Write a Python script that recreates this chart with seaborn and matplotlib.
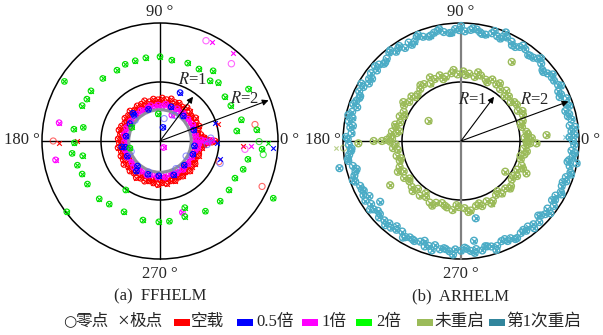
import numpy as np
import matplotlib
matplotlib.use("Agg")
import matplotlib.pyplot as plt
from matplotlib.patches import Circle, Rectangle
import seaborn as sns

# ---------------------------------------------------------------- data
# (a) FFHELM -- rings given as angle (deg) / modulus, single points as re / im

# no-load ring (空载)
red_ang_outer = [3, 9, 15, 21, 27, 33, 39, 45, 51, 57,
                 63, 69, 75, 81, 87, 93, 99, 105, 111, 117,
                 123, 129, 135, 141, 147, 153, 159, 165, 171, 177,
                 183, 189, 195, 201, 207, 213, 219, 225, 231, 237,
                 243, 249, 255, 261, 267, 273, 279, 285, 291, 297,
                 303, 309, 315, 321, 327, 333, 339, 345, 351, 357]
red_mod_outer = [0.74, 0.70, 0.67, 0.71, 0.69, 0.72, 0.68, 0.71, 0.73, 0.69,
                 0.72, 0.70, 0.74, 0.71, 0.73, 0.70, 0.72, 0.69, 0.73, 0.70,
                 0.71, 0.68, 0.72, 0.69, 0.71, 0.67, 0.70, 0.72, 0.68, 0.71,
                 0.69, 0.72, 0.68, 0.71, 0.70, 0.73, 0.69, 0.72, 0.70, 0.74,
                 0.71, 0.73, 0.70, 0.72, 0.74, 0.71, 0.73, 0.70, 0.72, 0.69,
                 0.71, 0.68, 0.72, 0.69, 0.71, 0.67, 0.70, 0.68, 0.72, 0.76]
red_ang_inner = [1, 6, 12, 19, 24, 30, 37, 42, 48, 55,
                 60, 66, 73, 78, 84, 91, 96, 102, 109, 114,
                 120, 127, 132, 138, 145, 150, 156, 163, 168, 174,
                 181, 186, 192, 199, 204, 210, 217, 222, 228, 235,
                 240, 246, 253, 258, 264, 271, 276, 282, 289, 294,
                 300, 307, 312, 318, 325, 330, 336, 343, 348, 354]
red_mod_inner = [0.64, 0.62, 0.65, 0.61, 0.64, 0.62, 0.66, 0.63, 0.61, 0.65,
                 0.63, 0.66, 0.62, 0.65, 0.64, 0.66, 0.63, 0.65, 0.62, 0.64,
                 0.62, 0.65, 0.61, 0.64, 0.62, 0.65, 0.61, 0.63, 0.66, 0.62,
                 0.64, 0.61, 0.65, 0.62, 0.64, 0.61, 0.66, 0.63, 0.65, 0.62,
                 0.66, 0.63, 0.65, 0.67, 0.64, 0.66, 0.63, 0.65, 0.62, 0.66,
                 0.63, 0.65, 0.61, 0.64, 0.62, 0.65, 0.63, 0.61, 0.64, 0.66]
red_spur_re = [0.74, 0.75, 0.78, 0.80, 0.83, 0.88, 0.93]
red_spur_im = [0.06, -0.06, 0.03, -0.03, 0.01, -0.02, 0.00]
red_zero_re = [-1.81, 1.61, 1.73, 1.00]
red_zero_im = [0.00, 0.28, -0.77, -0.35]
red_pole_re = [-1.71, -1.40, 1.40, 0.99]
red_pole_im = [-0.03, 0.00, -0.08, 0.28]

# 0.5x load (0.5倍)
blue_ang = [18, 47, 72, 110, 135, 150, 172, 190, 205, 228, 250, 268, 292, 315, 338, 352]
blue_mod = [0.60, 0.58, 0.61, 0.57, 0.62, 0.59, 0.58, 0.60, 0.61, 0.57, 0.60, 0.59, 0.62, 0.58, 0.60, 0.59]
blue_pair_re = [0.34, 0.05, -0.46, -0.65, -0.40]
blue_pair_im = [0.82, 0.23, 0.47, -0.10, -0.51]
blue_zero_ang = [60, 140, 200, 250, 300, 330]
blue_zero_mod = [0.50, 0.55, 0.52, 0.56, 0.54, 0.51]
blue_zero_re = [0.07, 1.02, 0.80, 0.86]
blue_zero_im = [0.38, -0.38, -0.06, 0.05]
blue_pole_re = [0.96, 1.02, 1.91, 0.93]
blue_pole_im = [-0.03, -0.31, -0.12, 0.31]

# 1x load (1倍)
mag_ang = [2, 9, 14, 21, 26, 33, 38, 45, 50, 57,
           62, 69, 74, 81, 86, 93, 98, 105, 110, 117,
           122, 129, 134, 141, 146, 153, 158, 165, 170, 177,
           182, 189, 194, 201, 206, 213, 218, 225, 230, 237,
           242, 249, 254, 261, 266, 273, 278, 285, 290, 297,
           302, 309, 314, 321, 326, 333, 338, 345, 350, 357]
mag_mod = [0.58, 0.61, 0.57, 0.60, 0.62, 0.58, 0.60, 0.57, 0.61, 0.59,
           0.62, 0.58, 0.60, 0.63, 0.59, 0.61, 0.58, 0.62, 0.60, 0.57,
           0.61, 0.59, 0.62, 0.58, 0.60, 0.57, 0.61, 0.59, 0.62, 0.58,
           0.60, 0.57, 0.61, 0.59, 0.62, 0.58, 0.60, 0.63, 0.59, 0.61,
           0.58, 0.62, 0.60, 0.57, 0.61, 0.59, 0.62, 0.58, 0.60, 0.61,
           0.58, 0.62, 0.59, 0.61, 0.57, 0.60, 0.58, 0.62, 0.65, 0.61]
mag_spur_re = [0.66, 0.70, 0.76, 0.82, 0.88]
mag_spur_im = [-0.04, 0.02, 0.00, -0.02, 0.01]
mag_pair_re = [-1.71, -1.77, 0.38, 0.06, 0.20]
mag_pair_im = [0.31, -0.32, -1.21, -0.11, 0.44]
mag_zero_re = [0.78, 1.21, 1.44]
mag_zero_im = [1.70, 1.31, -0.14]
mag_pole_re = [0.88, 1.23, 1.54]
mag_pole_im = [1.67, 1.49, -0.08]

# 2x load (2倍)
green_re = [0.00, 0.20, 0.47, 0.66, 0.90, 0.85, 0.99, -0.24, -0.42, -0.59,
            -0.73, -0.97, -1.62, -1.17, -1.24, -1.32, -1.30, -1.46, -1.45, -1.49,
            -1.31, -1.40, -1.32, -1.23, -1.03, -0.86, -0.61, -0.29, -0.02, 0.16,
            0.42, 0.42, 0.77, 1.02, 1.17, 1.27, 1.41, 1.49, 1.73, 1.30,
            1.38, 1.50, 1.20, 1.10, 1.64, 1.92, -0.58, -0.48, -0.03, -0.51,
            -1.58]
green_im = [1.43, 1.37, 1.32, 1.22, 1.19, 1.02, 0.99, 1.41, 1.36, 1.30,
            1.20, 1.06, 1.01, 0.85, 0.71, 0.60, 0.23, 0.20, -0.03, -0.21,
            -0.25, -0.41, -0.56, -0.73, -0.98, -1.07, -1.20, -1.34, -1.37, -1.36,
            -1.13, -1.28, -1.19, -1.02, -0.83, -0.63, -0.48, -0.31, -0.14, 0.17,
            0.36, 0.88, 0.60, 0.75, 0.19, -0.97, -0.83, 0.23, 0.46, -0.12,
            -1.20]
green_zero_re = [1.68, 1.75]
green_zero_im = [-0.01, -0.23]
green_pole_re = [1.83]
green_pole_im = [-0.03]

# common zero circle of the loaded cases
zero_ring_mod = 0.53

# (b) ARHELM
olive_ang = [3, 8, 13, 18, 23, 28, 33, 38, 43, 48,
             53, 58, 63, 68, 73, 78, 83, 88, 93, 98,
             103, 108, 113, 118, 123, 128, 133, 138, 143, 148,
             153, 158, 163, 168, 173, 178, 183, 188, 193, 198,
             203, 208, 213, 218, 223, 228, 233, 238, 243, 248,
             253, 258, 263, 268, 273, 278, 283, 288, 293, 298,
             303, 308, 313, 318, 323, 328, 333, 338, 343, 348,
             353, 357]
olive_mod = [1.08, 1.12, 1.06, 1.10, 1.14, 1.09, 1.13, 1.07, 1.11, 1.15,
             1.10, 1.13, 1.17, 1.12, 1.16, 1.11, 1.15, 1.18, 1.13, 1.16,
             1.12, 1.17, 1.14, 1.10, 1.15, 1.12, 1.08, 1.13, 1.10, 1.14,
             1.09, 1.12, 1.08, 1.13, 1.10, 1.17, 1.11, 1.08, 1.12, 1.09,
             1.13, 1.10, 1.15, 1.11, 1.14, 1.09, 1.16, 1.12, 1.17, 1.13,
             1.10, 1.15, 1.18, 1.12, 1.14, 1.19, 1.13, 1.16, 1.11, 1.15,
             1.09, 1.13, 1.10, 1.14, 1.08, 1.12, 1.07, 1.11, 1.06, 1.10,
             1.07, 1.12]
olive_ang2 = [6, 16, 26, 36, 46, 56, 66, 76, 86, 96,
              106, 116, 126, 136, 146, 156, 166, 186, 196, 206,
              216, 226, 236, 246, 256, 266, 276, 286, 296, 306,
              316, 326, 336, 346, 351, 171]
olive_mod2 = [1.14, 1.05, 1.16, 1.12, 1.06, 1.18, 1.09, 1.20, 1.12, 1.21,
              1.09, 1.20, 1.17, 1.07, 1.18, 1.05, 1.15, 1.16, 1.06, 1.19,
              1.08, 1.18, 1.07, 1.20, 1.13, 1.09, 1.21, 1.10, 1.18, 1.05,
              1.16, 1.06, 1.15, 1.04, 1.13, 1.06]
olive_pair_re = [0.86, 1.11, 0.75, -1.20, -0.55,
                 -1.74, -1.48, -1.34, -1.26, -1.20, -1.17, -1.20,
                 1.11, 1.17, 1.28, 1.20, 1.14, 1.45]
olive_pair_im = [1.34, -0.55, -0.52, -0.75, 0.34,
                 -0.04, 0.00, 0.00, 0.02, 0.07, 0.16, -0.01,
                 -0.01, -0.04, -0.04, 0.05, 0.07, 0.10]
olive_zero_re = [-1.99]
olive_zero_im = [-0.12]
olive_pole_re = [-2.12]
olive_pole_im = [-0.12]

teal_ang = [0, 3, 5, 8, 11, 14, 16, 19, 22, 25,
            27, 30, 33, 36, 38, 41, 44, 47, 49, 52,
            55, 58, 60, 63, 66, 69, 71, 74, 77, 80,
            82, 85, 88, 91, 93, 96, 99, 102, 104, 107,
            110, 113, 115, 118, 121, 124, 126, 129, 132, 135,
            137, 140, 143, 146, 148, 151, 154, 157, 159, 162,
            165, 168, 170, 173, 176, 179, 182, 185, 187, 190,
            193, 196, 198, 201, 204, 207, 209, 212, 215, 218,
            220, 223, 226, 229, 231, 234, 237, 240, 242, 245,
            248, 251, 253, 256, 259, 262, 264, 267, 270, 273,
            275, 278, 281, 284, 286, 289, 292, 295, 297, 300,
            303, 306, 308, 311, 314, 317, 319, 322, 325, 328,
            330, 333, 336, 339, 341, 344, 347, 350, 352, 355,
            358]
teal_mod = [1.90, 1.93, 1.88, 1.86, 1.91, 1.89, 1.84, 1.90, 1.93, 1.87,
            1.85, 1.90, 1.88, 1.92, 1.86, 1.83, 1.89, 1.91, 1.87, 1.85,
            1.90, 1.88, 1.84, 1.89, 1.92, 1.86, 1.88, 1.90, 1.85, 1.87,
            1.91, 1.89, 1.86, 1.88, 1.90, 1.84, 1.87, 1.91, 1.89, 1.85,
            1.88, 1.92, 1.86, 1.89, 1.84, 1.90, 1.87, 1.93, 1.88, 1.85,
            1.90, 1.86, 1.91, 1.88, 1.84, 1.89, 1.92, 1.87, 1.90, 1.85,
            1.91, 1.88, 1.93, 1.89, 1.86, 1.92, 1.90, 1.87, 1.91, 1.94,
            1.88, 1.86, 1.90, 1.92, 1.87, 1.85, 1.89, 1.91, 1.86, 1.88,
            1.84, 1.90, 1.87, 1.85, 1.89, 1.86, 1.83, 1.88, 1.85, 1.87,
            1.84, 1.89, 1.86, 1.82, 1.87, 1.85, 1.88, 1.84, 1.86, 1.83,
            1.87, 1.85, 1.89, 1.84, 1.86, 1.88, 1.83, 1.87, 1.85, 1.90,
            1.86, 1.88, 1.84, 1.87, 1.91, 1.85, 1.89, 1.86, 1.92, 1.88,
            1.85, 1.90, 1.87, 1.91, 1.88, 1.93, 1.89, 1.86, 1.91, 1.88,
            1.92]
teal_ang2 = [2, 7, 13, 18, 24, 29, 35, 40, 46, 51,
             57, 62, 68, 73, 79, 84, 90, 95, 101, 106,
             112, 117, 123, 128, 134, 139, 145, 150, 156, 161,
             167, 172, 178, 184, 189, 195, 200, 206, 211, 217,
             222, 228, 233, 239, 244, 250, 255, 261, 266, 272,
             277, 283, 288, 294, 299, 305, 310, 316, 321, 327,
             332, 338, 343, 349, 354]
teal_mod2 = [1.84, 1.95, 1.86, 1.93, 1.83, 1.94, 1.88, 1.82, 1.95, 1.86,
             1.93, 1.84, 1.91, 1.95, 1.85, 1.92, 1.95, 1.84, 1.93, 1.86,
             1.94, 1.83, 1.92, 1.95, 1.85, 1.93, 1.84, 1.95, 1.87, 1.93,
             1.96, 1.85, 1.95, 1.86, 1.94, 1.83, 1.95, 1.87, 1.81, 1.93,
             1.85, 1.92, 1.81, 1.91, 1.86, 1.80, 1.92, 1.84, 1.93, 1.81,
             1.91, 1.83, 1.94, 1.82, 1.90, 1.84, 1.93, 1.82, 1.95, 1.84,
             1.93, 1.86, 1.95, 1.84, 1.94]
teal_pair_re = [0.76, 0.25, -1.37, 1.96, -2.06, 0.22]
teal_pair_im = [1.84, -1.31, -1.03, -0.38, -0.46, -1.69]
teal_pole_re = [1.76]
teal_pole_im = [0.07]

angle_labels = ["0 °", "90 °", "180 °", "270 °"]
captions = ["(a)  FFHELM", "(b)  ARHELM"]
legend_labels = ["空载", "0.5倍", "1倍", "2倍", "未重启", "第1次重启"]
legend_colors = ["#ff0000", "#0000ff", "#ff00ff", "#00ff00", "#9bbb59", "#31859c"]

RED, BLUE, MAG, GREEN = "#ff0000", "#0000ff", "#ff00ff", "#00e000"
OLIVE, TEAL = "#9bbb59", "#4bacc6"

# ---------------------------------------------------------------- style
sns.set_style("white")
plt.rcParams["font.family"] = ["Liberation Serif", "Noto Sans CJK SC", "DejaVu Sans"]
plt.rcParams["mathtext.fontset"] = "stix"
FS = 12

W, H, UNIT = 603, 335, 59.0
fig = plt.figure(figsize=(W / 100, H / 100), dpi=100)


def polar(ang, mod):
    a = np.deg2rad(np.asarray(ang, float))
    r = np.asarray(mod, float)
    return r * np.cos(a), r * np.sin(a)


def make_axes(cx, cy):
    hw, hh = 2.2, 2.35
    ax = fig.add_axes([(cx - hw * UNIT) / W, (H - cy - hh * UNIT) / H,
                       2 * hw * UNIT / W, 2 * hh * UNIT / H])
    ax.set_xlim(-hw, hw)
    ax.set_ylim(-hh, hh)
    ax.axis("off")
    return ax


def zeros(ax, x, y, color, s, lw, alpha=1.0, z=3):
    sns.scatterplot(x=np.asarray(x, float), y=np.asarray(y, float), ax=ax,
                    marker="o", s=s, color="none", edgecolor=color,
                    linewidth=lw, alpha=alpha, legend=False, zorder=z)


def poles(ax, x, y, color, s, lw, alpha=1.0, z=3):
    sns.scatterplot(x=np.asarray(x, float), y=np.asarray(y, float), ax=ax,
                    marker="x", s=s, color=color, linewidth=lw,
                    alpha=alpha, legend=False, zorder=z)


def pairs(ax, x, y, color, s, lw, z=3, xs=0.75):
    zeros(ax, x, y, color, s, lw, z=z)
    poles(ax, x, y, color, s * xs, lw, z=z)


def frame(ax, vcolor, vlw):
    for r in (1, 2):
        ax.add_patch(Circle((0, 0), r, fill=False, lw=1.1, ec="black", zorder=1))
    ax.plot([-2, 2], [0, 0], color="black", lw=1.0, zorder=1)
    ax.plot([0, 0], [-2, 2], color=vcolor, lw=vlw, zorder=1)
    ax.text(2.04, 0.02, angle_labels[0], fontsize=FS, ha="left", va="center")
    ax.text(0, 2.19, angle_labels[1], fontsize=FS, ha="center", va="center")
    ax.text(-2.03, 0.02, angle_labels[2], fontsize=FS, ha="right", va="center")
    ax.text(0, -2.25, angle_labels[3], fontsize=FS, ha="center", va="center")


def arrows(ax, tip1, txt1, tip2, txt2):
    for tip, txt, lab in ((tip1, txt1, "$R$=1"), (tip2, txt2, "$R$=2")):
        ax.annotate("", xy=tip, xytext=(0, 0),
                    arrowprops=dict(arrowstyle="-|>", lw=0.8, color="black",
                                    mutation_scale=9, shrinkA=0, shrinkB=0),
                    zorder=6)
        ax.text(txt[0], txt[1], lab, fontsize=FS, ha="left", va="center", zorder=6)


# ---------------------------------------------------------------- (a)
axa = make_axes(160, 141)
frame(axa, "black", 1.0)

S_A, LW_A = 16, 0.8
x, y = polar(red_ang_outer, red_mod_outer)
pairs(axa, x, y, RED, S_A, LW_A)
x, y = polar(red_ang_inner, red_mod_inner)
pairs(axa, x, y, RED, S_A, LW_A)
pairs(axa, red_spur_re, red_spur_im, RED, S_A, LW_A)
zeros(axa, red_zero_re, red_zero_im, RED, S_A * 1.2, LW_A, alpha=0.6)
poles(axa, red_pole_re, red_pole_im, RED, S_A * 0.7, LW_A)

x, y = polar(mag_ang, mag_mod)
pairs(axa, x, y, MAG, S_A, LW_A, z=4)
pairs(axa, mag_spur_re, mag_spur_im, MAG, S_A, LW_A, z=4)
pairs(axa, mag_pair_re, mag_pair_im, MAG, S_A, LW_A, z=4)
zeros(axa, mag_zero_re, mag_zero_im, MAG, S_A * 1.3, LW_A, alpha=0.6, z=4)
poles(axa, mag_pole_re, mag_pole_im, MAG, S_A * 0.7, LW_A, z=4)

axa.add_patch(Circle((0, 0), zero_ring_mod, fill=False, lw=2.2, ec="#8e8e9e", zorder=4.5))

x, y = polar(blue_ang, blue_mod)
pairs(axa, x, y, BLUE, S_A, LW_A, z=5)
pairs(axa, blue_pair_re, blue_pair_im, BLUE, S_A, LW_A, z=5)
x, y = polar(blue_zero_ang, blue_zero_mod)
zeros(axa, x, y, "#6666ff", S_A * 1.2, LW_A, alpha=0.7, z=5)
zeros(axa, blue_zero_re, blue_zero_im, "#6666ff", S_A * 1.2, LW_A, alpha=0.7, z=5)
poles(axa, blue_pole_re, blue_pole_im, BLUE, S_A * 0.7, LW_A, z=5)

pairs(axa, green_re, green_im, GREEN, S_A, LW_A, z=5)
zeros(axa, green_zero_re, green_zero_im, GREEN, S_A * 1.2, LW_A, alpha=0.7, z=5)
poles(axa, green_pole_re, green_pole_im, GREEN, S_A * 0.7, LW_A, z=5)

arrows(axa, (0.56, 0.75), (0.30, 1.03), (1.84, 0.69), (1.19, 0.72))
axa.text(0, -2.63, captions[0], fontsize=FS, ha="center", va="center")

# ---------------------------------------------------------------- (b)
axb = make_axes(461, 141)
frame(axb, "#808080", 1.6)

S_B, LW_B = 24, 1.0
x, y = polar(olive_ang, olive_mod)
pairs(axb, x, y, OLIVE, S_B, LW_B, xs=0.5)
x, y = polar(olive_ang2, olive_mod2)
pairs(axb, x, y, OLIVE, S_B, LW_B, xs=0.5)
pairs(axb, olive_pair_re, olive_pair_im, OLIVE, S_B, LW_B, xs=0.5)
zeros(axb, olive_zero_re, olive_zero_im, OLIVE, S_B * 0.8, 0.8, alpha=0.7)
poles(axb, olive_pole_re, olive_pole_im, OLIVE, S_B * 0.4, 0.8, alpha=0.7)

x, y = polar(teal_ang, teal_mod)
pairs(axb, x, y, TEAL, S_B, LW_B, xs=0.5)
x, y = polar(teal_ang2, teal_mod2)
pairs(axb, x, y, TEAL, S_B, LW_B, xs=0.5)
pairs(axb, teal_pair_re, teal_pair_im, TEAL, S_B, LW_B, xs=0.5)
poles(axb, teal_pole_re, teal_pole_im, TEAL, S_B * 0.4, 0.8, alpha=0.7)

arrows(axb, (0.56, 0.75), (-0.05, 0.70), (1.82, 0.67), (1.00, 0.70))
axb.text(0, -2.63, captions[1], fontsize=FS, ha="center", va="center")

# ---------------------------------------------------------------- legend
LY = 1 - 322 / H
fig.text(63 / W, LY, "○", fontsize=11, va="center", ha="left", family=["DejaVu Sans"])
fig.text(75 / W, LY, "零点", fontsize=FS, va="center", ha="left")
fig.text(117 / W, LY, "×", fontsize=15, va="center", ha="left")
fig.text(129 / W, LY, "极点", fontsize=FS, va="center", ha="left")
patch_x = [174, 237, 302, 356, 417, 489]
text_x = [191, 256, 321, 376, 434, 506]
for px, tx, lab, col in zip(patch_x, text_x, legend_labels, legend_colors):
    fig.add_artist(Rectangle((px / W, 1 - 325.5 / H), 16 / W, 7 / H,
                             transform=fig.transFigure, color=col, lw=0))
    fig.text(tx / W, LY, lab, fontsize=FS, va="center", ha="left")

fig.savefig("out.png", dpi=100)
